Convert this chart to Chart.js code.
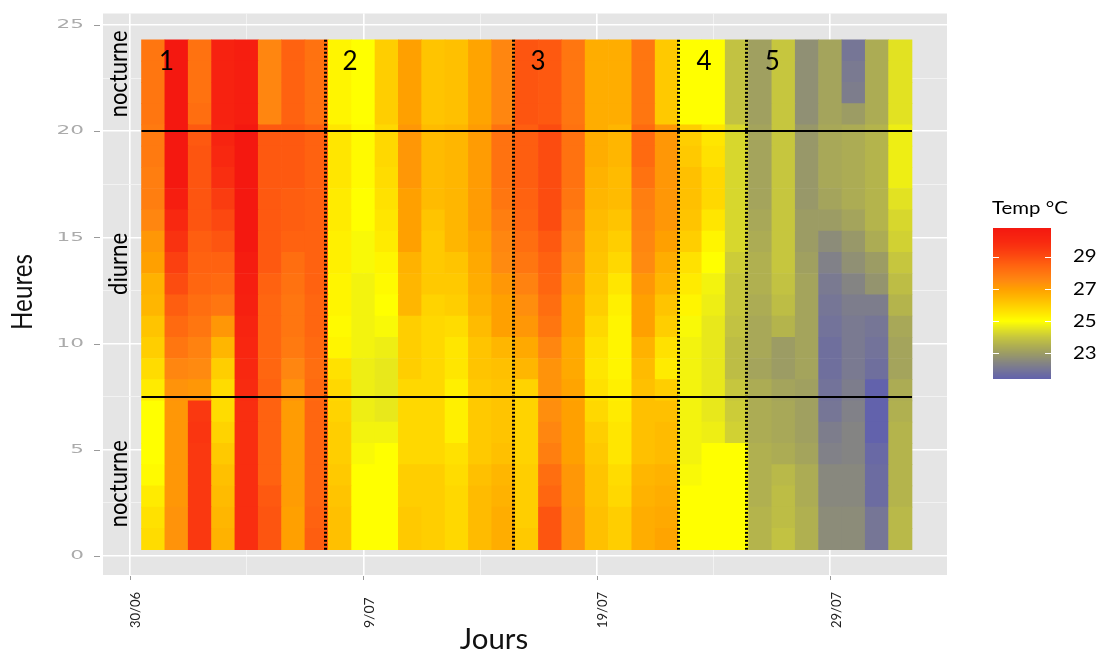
<!DOCTYPE html>
<html lang="fr">
<head>
<meta charset="utf-8">
<title>Températures horaires – Heures / Jours</title>
<script src="https://cdn.jsdelivr.net/npm/chart.js@4.4.1/dist/chart.umd.min.js"></script>
<style>
  html, body { margin: 0; padding: 0; background: #ffffff; }
  #wrap { width: 1102px; height: 650px; }
</style>
</head>
<body>
<div id="wrap"><canvas id="c" width="1102" height="650"></canvas></div>
<script>
// ---------------- DATA ----------------
const days = [1,2,3,4,5,6,7,8,9,10,11,12,13,14,15,16,17,18,19,20,21,22,23,24,25,26,27,28,29,30,31,32,33];
const hours = [0,1,2,3,4,5,6,7,8,9,10,11,12,13,14,15,16,17,18,19,20,21,22,23];
const xTickValues = [0, 10, 20, 30];
const xTickLabels = ['30/06', '9/07', '19/07', '29/07'];
const yTickValues = [0, 5, 10, 15, 20, 25];
const legendTicks = [29, 27, 25, 23];

// Hourly temperatures (°C) per day, hours 0..23
const jour01 = [25.7,25.6,25.4,25.1,25.0,25.0,25.0,25.4,25.7,26.0,26.2,26.5,26.6,27.0,27.2,27.6,27.8,27.8,27.9,27.9,28.0,28.0,28.0,28.0];
const jour02 = [27.3,27.3,27.2,27.2,27.2,27.2,27.2,27.3,27.6,28.0,28.3,28.6,29.0,29.3,29.7,30.0,30.5,30.8,30.8,30.8,30.8,30.8,30.8,30.8];
const jour03 = [29.5,29.5,29.5,29.5,29.5,29.6,29.5,27.2,27.5,27.7,28.0,28.2,28.4,28.5,28.6,28.8,28.8,28.8,28.8,28.7,28.2,28.1,28.1,28.1];
const jour04 = [26.6,26.5,26.4,26.3,26.1,25.9,25.7,25.7,26.0,26.5,27.2,28.0,28.3,28.5,28.8,29.1,29.4,29.8,30.0,30.2,30.3,30.3,30.3,30.3];
const jour05 = [29.8,29.8,29.8,29.8,29.8,29.8,29.8,29.9,30.0,30.1,30.2,30.4,30.5,30.6,30.8,30.8,30.8,30.8,30.8,30.8,30.5,30.5,30.5,30.5];
const jour06 = [28.8,28.8,28.7,28.5,28.5,28.5,28.5,28.5,28.4,28.4,28.4,28.4,28.5,28.7,28.7,28.7,28.7,28.7,28.7,28.7,27.6,27.6,27.6,27.6];
const jour07 = [27.0,27.0,27.1,27.1,27.1,27.1,27.1,27.3,27.6,27.9,28.0,28.0,28.1,28.2,28.5,28.6,28.6,28.7,28.7,28.7,28.5,28.5,28.5,28.5];
const jour08 = [28.6,28.5,28.4,28.4,28.4,28.4,28.4,28.3,28.2,28.3,28.4,28.4,28.5,28.5,28.5,28.5,28.5,28.5,28.5,28.5,28.1,28.1,28.1,28.1];
const jour09 = [26.3,26.3,26.2,26.1,26.0,26.0,25.9,25.8,25.6,25.2,25.1,25.2,25.2,25.3,25.3,25.4,25.4,25.5,25.5,25.5,25.2,25.2,25.2,25.2];
const jour10 = [25.0,25.0,25.0,25.0,24.9,24.8,24.7,24.7,24.7,24.8,24.8,24.8,24.8,24.9,24.9,25.0,25.0,25.1,25.1,25.1,25.0,25.0,25.0,25.0];
const jour11 = [25.0,25.0,25.0,25.0,25.0,24.8,24.6,24.6,24.6,24.7,24.9,25.0,25.1,25.2,25.4,25.5,25.6,25.7,25.8,25.8,26.0,26.0,26.0,26.0];
const jour12 = [26.1,26.1,26.0,26.0,25.8,25.8,25.8,25.8,26.0,26.0,26.0,26.5,26.5,26.6,27.0,27.0,27.0,27.2,27.2,27.2,27.0,27.0,27.0,27.0];
const jour13 = [26.0,26.0,26.0,26.0,25.8,25.8,25.8,25.8,25.8,25.8,25.8,25.9,26.1,26.1,26.1,26.2,26.4,26.4,26.4,26.4,26.2,26.2,26.2,26.2];
const jour14 = [25.8,25.8,25.8,25.7,25.6,25.3,25.3,25.3,25.5,25.5,25.7,26.0,26.1,26.2,26.5,26.5,26.5,26.5,26.5,26.5,26.3,26.3,26.3,26.3];
const jour15 = [26.4,26.4,26.4,26.3,26.1,26.1,26.1,26.1,26.2,26.2,26.4,26.6,26.7,26.8,26.9,27.1,27.1,27.1,27.1,27.1,26.9,26.9,26.9,26.9];
const jour16 = [26.7,26.7,26.6,26.5,26.3,26.2,26.2,26.2,26.3,26.5,27.0,27.0,27.2,27.5,27.6,27.8,28.0,28.1,28.1,28.1,27.6,27.6,27.6,27.6];
const jour17 = [26.1,26.0,26.0,26.0,25.9,25.9,25.9,25.9,26.5,26.8,27.2,27.4,27.7,28.0,28.2,28.4,28.5,28.6,28.6,28.6,28.8,28.8,28.8,28.8];
const jour18 = [28.8,28.8,28.4,28.2,27.8,27.6,27.4,27.3,27.3,27.6,28.0,28.2,28.4,28.5,28.7,29.0,29.0,29.0,29.0,29.0,28.7,28.7,28.7,28.7];
const jour19 = [27.3,27.3,27.2,27.2,27.0,27.0,27.0,26.9,26.8,26.8,27.0,27.0,27.2,27.4,27.6,27.8,28.0,28.1,28.1,28.1,28.0,28.0,28.0,28.0];
const jour20 = [26.3,26.3,26.2,26.2,26.1,26.0,25.8,25.6,25.5,25.6,25.8,26.0,26.1,26.2,26.3,26.4,26.5,26.6,26.7,26.7,26.7,26.7,26.7,26.7];
const jour21 = [26.0,26.0,25.8,25.7,25.5,25.5,25.4,25.3,25.2,25.2,25.2,25.3,25.5,25.8,26.0,26.2,26.4,26.4,26.5,26.5,26.7,26.7,26.7,26.7];
const jour22 = [26.7,26.7,26.6,26.5,26.3,26.3,26.3,26.3,26.4,26.6,27.0,27.0,27.2,27.5,27.6,27.7,27.8,28.1,28.3,28.3,28.0,28.0,28.0,28.0];
const jour23 = [26.9,26.8,26.7,26.6,26.4,26.4,26.3,26.0,25.4,25.6,26.0,26.2,26.5,26.7,27.0,27.2,27.2,27.2,27.2,27.2,26.1,26.1,26.1,26.1];
const jour24 = [25.0,25.0,25.0,24.9,24.8,24.8,24.8,24.8,24.8,24.8,24.9,25.2,25.4,25.6,26.0,26.2,26.3,26.3,26.1,26.0,25.0,25.0,25.0,25.0];
const jour25 = [25.0,25.0,25.0,25.0,25.0,24.7,24.6,24.6,24.6,24.6,24.6,24.7,24.8,25.0,25.2,25.5,25.8,25.8,25.6,25.5,25.0,25.0,25.0,25.0];
const jour26 = [25.0,25.0,25.0,25.0,25.0,24.2,24.1,24.0,23.8,23.8,23.9,24.0,24.0,24.1,24.3,24.3,24.3,24.3,24.3,24.3,23.9,23.9,23.9,23.9];
const jour27 = [23.6,23.6,23.5,23.5,23.5,23.4,23.4,23.4,23.2,23.3,23.3,23.4,23.5,23.5,23.4,23.3,23.2,23.2,23.2,23.2,23.1,23.1,23.1,23.1];
const jour28 = [23.9,23.8,23.8,23.7,23.4,23.3,23.3,23.2,23.0,23.0,23.6,23.8,23.9,24.0,24.0,24.0,24.0,24.0,24.0,24.0,24.0,24.0,24.0,24.0];
const jour29 = [23.5,23.5,23.4,23.4,23.2,23.1,23.1,23.1,23.2,23.2,23.2,23.2,23.2,23.1,23.0,23.0,22.9,22.9,22.9,22.9,22.7,22.7,22.7,22.7];
const jour30 = [22.6,22.6,22.5,22.5,22.3,22.2,22.0,21.9,21.8,21.8,21.9,22.0,22.1,22.3,22.6,23.0,23.2,23.3,23.3,23.3,23.2,23.2,23.2,23.2];
const jour31 = [22.6,22.6,22.5,22.5,22.4,22.4,22.3,22.2,22.1,22.1,22.1,22.2,22.4,22.7,22.9,23.2,23.4,23.4,23.4,23.4,23.0,22.2,22.1,22.0];
const jour32 = [22.0,22.0,21.7,21.7,21.6,21.4,21.4,21.4,21.8,21.9,22.0,22.2,22.8,23.0,23.4,23.6,23.6,23.6,23.6,23.6,23.4,23.4,23.4,23.4];
const jour33 = [23.7,23.7,23.6,23.6,23.6,23.6,23.5,23.4,23.2,23.2,23.3,23.6,23.8,24.0,24.2,24.3,24.5,24.7,24.7,24.7,24.5,24.5,24.5,24.5];

const jours = [jour01,jour02,jour03,jour04,jour05,jour06,jour07,jour08,jour09,jour10,jour11,
  jour12,jour13,jour14,jour15,jour16,jour17,jour18,jour19,jour20,jour21,jour22,
  jour23,jour24,jour25,jour26,jour27,jour28,jour29,jour30,jour31,jour32,jour33];

// Period annotations
const periodLabels = ['1', '2', '3', '4', '5'];
const periodLabelDay = [1.57, 9.43, 17.48, 24.59, 27.52];
const periodBounds = [8.36, 16.42, 23.47, 26.41];
const dayNightBounds = [20, 7.5];
const phaseLabels = ['nocturne', 'diurne', 'nocturne'];
const phaseLabelHour = [22.7, 13.75, 3.4];

// ---------------- COLOUR SCALE ----------------
const colorStops = [
  [21.4, [98, 98, 172]], [22.0, [118, 118, 150]], [22.5, [136, 136, 126]],
  [23.0, [156, 156, 100]], [23.5, [176, 176, 80]], [24.0, [198, 198, 62]],
  [24.5, [226, 226, 34]], [25.0, [255, 255, 0]], [25.5, [255, 230, 0]],
  [26.0, [255, 206, 0]], [26.5, [255, 182, 0]], [27.0, [255, 160, 0]],
  [27.5, [255, 138, 16]], [28.0, [255, 118, 16]], [28.5, [255, 98, 16]],
  [29.0, [252, 76, 16]], [29.5, [250, 56, 16]], [30.0, [248, 40, 16]],
  [30.8, [244, 24, 16]]
];
const legendMin = 21.4, legendMax = 30.8;

function tempColor(v) {
  if (v <= colorStops[0][0]) return 'rgb(' + colorStops[0][1].join(',') + ')';
  for (let i = 1; i < colorStops.length; i++) {
    if (v <= colorStops[i][0]) {
      const [v0, c0] = colorStops[i - 1], [v1, c1] = colorStops[i];
      const t = (v - v0) / (v1 - v0);
      const c = c0.map((a, k) => Math.round(a + (c1[k] - a) * t));
      return 'rgb(' + c.join(',') + ')';
    }
  }
  return 'rgb(' + colorStops[colorStops.length - 1][1].join(',') + ')';
}

// ---------------- DATASETS (one row of tiles per hour) ----------------
const tileOffset = 0.3;
const datasets = hours.map((h, hi) => ({
  type: 'bar',
  label: 'h' + h,
  data: days.map(d => ({ x: d, y: [h + tileOffset, h + tileOffset + 1] })),
  backgroundColor: days.map((d, di) => tempColor(jours[di][hi])),
  borderWidth: 0,
  grouped: false,
  barPercentage: 1,
  categoryPercentage: 1
}));

// ---------------- HELPERS ----------------
function drawText(ctx, s, x, y, o) {
  ctx.save();
  ctx.translate(x, y);
  if (o.rot) ctx.rotate(o.rot);
  ctx.scale(o.sx || 1, 1);
  ctx.font = o.font;
  ctx.fillStyle = o.color || '#000';
  ctx.textAlign = o.align || 'center';
  ctx.textBaseline = o.baseline || 'middle';
  if (o.maxW) ctx.fillText(s, 0, 0, o.maxW / (o.sx || 1));
  else ctx.fillText(s, 0, 0);
  ctx.restore();
}

const decor = {
  id: 'decor',
  beforeDraw(chart) {
    const { ctx, chartArea: a } = chart;
    ctx.save();
    ctx.fillStyle = '#ffffff';
    ctx.fillRect(0, 0, chart.width, chart.height);
    ctx.fillStyle = '#e5e5e5';
    ctx.fillRect(a.left, a.top, a.right - a.left, a.bottom - a.top);
    ctx.restore();
  },
  afterDatasetsDraw(chart) {
    const { ctx } = chart;
    const xs = chart.scales.x, ys = chart.scales.y;
    const x0 = xs.getPixelForValue(days[0] - 0.5);
    const x1 = xs.getPixelForValue(days[days.length - 1] + 0.5);
    const yTop = ys.getPixelForValue(hours[hours.length - 1] + tileOffset + 1);
    const yBot = ys.getPixelForValue(hours[0] + tileOffset);
    ctx.save();
    // day / night solid lines
    ctx.strokeStyle = '#000';
    ctx.lineWidth = 2;
    dayNightBounds.forEach(h => {
      const y = Math.round(ys.getPixelForValue(h));
      ctx.beginPath(); ctx.moveTo(x0, y); ctx.lineTo(x1, y); ctx.stroke();
    });
    // period dotted lines
    ctx.lineWidth = 3;
    ctx.setLineDash([2, 2]);
    periodBounds.forEach(d => {
      const x = Math.round(xs.getPixelForValue(d)) + 0.5;
      ctx.beginPath(); ctx.moveTo(x, yTop); ctx.lineTo(x, yBot); ctx.stroke();
    });
    ctx.setLineDash([]);
    ctx.restore();
    // period numbers
    periodLabels.forEach((s, i) => {
      drawText(ctx, s, xs.getPixelForValue(periodLabelDay[i]), ys.getPixelForValue(23.27),
        { font: '26px Lato', color: '#000' });
    });
  },
  afterDraw(chart) {
    const { ctx, chartArea: a } = chart;
    const xs = chart.scales.x, ys = chart.scales.y;
    // tick marks
    ctx.save();
    ctx.strokeStyle = '#9a9a9a';
    ctx.lineWidth = 1;
    yTickValues.forEach(v => {
      const y = Math.round(ys.getPixelForValue(v)) + 0.5;
      ctx.beginPath(); ctx.moveTo(a.left - 9, y); ctx.lineTo(a.left - 3, y); ctx.stroke();
    });
    xTickValues.forEach(v => {
      const x = Math.round(xs.getPixelForValue(v)) + 0.5;
      ctx.beginPath(); ctx.moveTo(x, a.bottom + 1); ctx.lineTo(x, a.bottom + 5); ctx.stroke();
    });
    ctx.restore();
    // y tick labels
    yTickValues.forEach(v => {
      drawText(ctx, String(v), a.left - 19, ys.getPixelForValue(v),
        { font: '12px "DejaVu Sans"', color: '#ababab', align: 'right', sx: 1.8 });
    });
    // x tick labels (rotated)
    xTickValues.forEach((v, i) => {
      drawText(ctx, xTickLabels[i], xs.getPixelForValue(v) + 6, a.bottom + 53,
        { font: '14px Lato', color: '#222', align: 'left', rot: -Math.PI / 2, maxW: 36 });
    });
    // axis titles
    drawText(ctx, 'Heures', 23, 292, { font: '28px Lato', color: '#111', rot: -Math.PI / 2, maxW: 76 });
    drawText(ctx, 'Jours', 494, 640, { font: '28px Lato', color: '#111', sx: 1.05 });
    // day / night labels
    phaseLabels.forEach((s, i) => {
      drawText(ctx, s, 119, ys.getPixelForValue(phaseLabelHour[i]),
        { font: '25px Lato', color: '#000', rot: -Math.PI / 2, maxW: s === 'diurne' ? 62 : 87 });
    });
    // legend (colour bar)
    const lx = 993, lw = 58, lt = 228, lb = 379;
    const vToY = v => lb - (v - legendMin) / (legendMax - legendMin) * (lb - lt);
    for (let y = lt; y < lb; y++) {
      const v = legendMin + (lb - y - 0.5) / (lb - lt) * (legendMax - legendMin);
      ctx.fillStyle = tempColor(v);
      ctx.fillRect(lx, y, lw, 1);
    }
    ctx.save();
    ctx.strokeStyle = '#ffffff';
    ctx.lineWidth = 1;
    legendTicks.forEach(v => {
      const y = Math.round(vToY(v)) + 0.5;
      ctx.beginPath(); ctx.moveTo(lx, y); ctx.lineTo(lx + 6, y); ctx.stroke();
      ctx.beginPath(); ctx.moveTo(lx + lw - 6, y); ctx.lineTo(lx + lw, y); ctx.stroke();
    });
    ctx.restore();
    legendTicks.forEach(v => {
      drawText(ctx, String(v), 1073, vToY(v), { font: '17px Lato', color: '#000', align: 'left', sx: 1.2 });
    });
    drawText(ctx, 'Temp °C', 992, 209, { font: '17px Lato', color: '#000', align: 'left', sx: 1.2 });
  }
};

// ---------------- CHART ----------------
new Chart(document.getElementById('c'), {
  type: 'bar',
  data: { datasets },
  plugins: [decor],
  options: {
    responsive: false,
    animation: false,
    devicePixelRatio: 1,
    layout: { padding: { left: 0, right: 155, top: 13.5, bottom: 0 } },
    plugins: { legend: { display: false }, tooltip: { enabled: false } },
    scales: {
      x: {
        type: 'linear', min: -1.15, max: 35.0, offset: false,
        afterBuildTicks: s => { s.ticks = [0, 5, 10, 15, 20, 25, 30].map(v => ({ value: v })); },
        afterFit: s => { s.height = 75; },
        ticks: { display: false },
        border: { display: false },
        grid: {
          offset: false, drawTicks: false,
          color: c => (c.tick && c.tick.value % 10 === 0) ? '#ffffff' : '#f3f3f3',
          lineWidth: c => (c.tick && c.tick.value % 10 === 0) ? 1.6 : 0.9
        }
      },
      y: {
        type: 'linear', min: -0.894, max: 25.54, stacked: false,
        afterBuildTicks: s => { s.ticks = [0, 2.5, 5, 7.5, 10, 12.5, 15, 17.5, 20, 22.5, 25].map(v => ({ value: v })); },
        afterFit: s => { s.width = 103; },
        ticks: { display: false },
        border: { display: false },
        grid: {
          drawTicks: false,
          color: c => (c.tick && c.tick.value % 5 === 0) ? '#ffffff' : '#f3f3f3',
          lineWidth: c => (c.tick && c.tick.value % 5 === 0) ? 1.6 : 0.9
        }
      }
    }
  }
});
</script>
</body>
</html>
